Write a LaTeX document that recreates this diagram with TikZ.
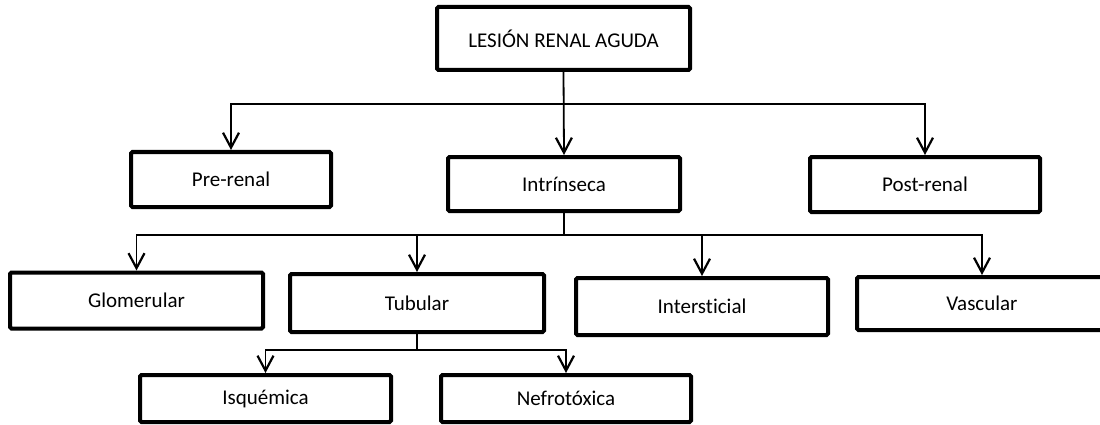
\documentclass[tikz,border=0pt]{standalone}
\usepackage{fontspec}
\setmainfont[Ligatures={NoCommon}]{Carlito}
\usetikzlibrary{arrows.meta}
\tikzset{
  box/.style={draw, line width=4pt, rounded corners=1.5pt, inner sep=0pt, fill=white,
    font=\fontsize{21}{25}\selectfont},
  conn/.style={line width=1.5pt},
  arr/.style={line width=1.8pt, -{Straight Barb[length=15pt,width=16pt,line width=2.2pt]}}
}
\begin{document}
\begin{tikzpicture}[x=1pt,y=-1pt]
\useasboundingbox (0,0) rectangle (1100,425);
\node[box, minimum width=253pt, minimum height=63pt] (lra) at (563.5,38.5) {LESIÓN RENAL AGUDA};
\node[box, minimum width=200pt, minimum height=55pt] (pre) at (231,179.5) {Pre-renal};
\node[box, minimum width=232pt, minimum height=54pt] (intr) at (564,184) {Intrínseca};
\node[box, minimum width=230pt, minimum height=55pt] (post) at (925,184.5) {Post-renal};
\node[box, minimum width=253pt, minimum height=56pt] (glom) at (136.5,300.5) {Glomerular};
\node[box, minimum width=254pt, minimum height=58pt] (tub) at (417,303) {Tubular};
\node[box, minimum width=252pt, minimum height=57pt] (inter) at (702,306.5) {Intersticial};
\node[box, minimum width=250pt, minimum height=53pt] (vasc) at (982,303.5) {Vascular};
\node[box, minimum width=251pt, minimum height=47pt] (isq) at (265.5,398.5) {Isquémica};
\node[box, minimum width=250pt, minimum height=47pt] (nef) at (566,398.5) {Nefrotóxica};
\coordinate (j1) at (564,104);
\coordinate (j2) at (564,235);
\coordinate (j3) at (417,350);
\draw[arr] (lra.south) -- (intr.north);
\draw[arr] (j1) -| (pre.north);
\draw[arr] (j1) -| (post.north);
\draw[conn] (intr.south) -- (j2);
\draw[arr] (j2) -| (glom.north);
\draw[arr] (j2) -| (tub.north);
\draw[arr] (j2) -| (inter.north);
\draw[arr] (j2) -| (vasc.north);
\draw[conn] (tub.south) -- (j3);
\draw[arr] (j3) -| (isq.north);
\draw[arr] (j3) -| (nef.north);
\end{tikzpicture}
\end{document}
